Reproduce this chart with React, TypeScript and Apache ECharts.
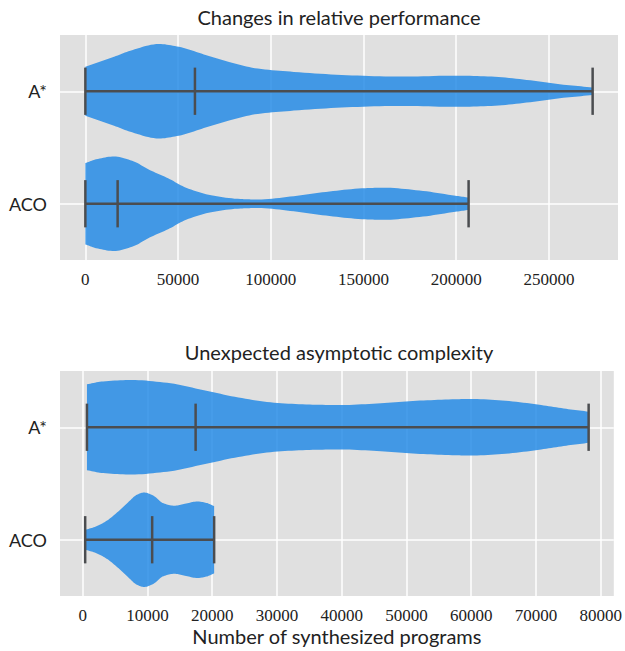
import React, { useEffect, useRef } from 'react';
import * as echarts from 'echarts';

const categories = ['A*', 'ACO'];

// Changes in relative performance
const perfTicks = [0, 50000, 100000, 150000, 200000, 250000];
const perfMin = [0, 0];
const perfMedian = [59100, 17400];
const perfMax = [273600, 206700];
const perfAstarX = [0, 15500, 25200, 39700, 50400, 63900, 77500, 93000, 112400, 141000, 170500, 199600, 219000, 238000, 257800, 273600];
const perfAstarW = [0.52, 0.73, 0.87, 1.0, 0.94, 0.78, 0.62, 0.48, 0.41, 0.34, 0.31, 0.33, 0.31, 0.24, 0.14, 0.08];
const perfAcoX = [0, 5800, 15500, 25200, 34900, 44600, 54300, 67800, 83700, 93000, 112400, 131700, 151100, 160800, 180200, 199600, 206700];
const perfAcoW = [0.86, 0.94, 1.0, 0.91, 0.71, 0.54, 0.34, 0.18, 0.1, 0.09, 0.16, 0.26, 0.33, 0.34, 0.28, 0.17, 0.13];

// Unexpected asymptotic complexity
const complTicks = [0, 10000, 20000, 30000, 40000, 50000, 60000, 70000, 80000];
const complMin = [660, 385];
const complMedian = [17440, 10730];
const complMax = [78130, 20300];
const complAstarX = [660, 3140, 7540, 13040, 18540, 24040, 29550, 35050, 40000, 46050, 51550, 57060, 59800, 65300, 70800, 74660, 78130];
const complAstarW = [0.91, 0.97, 1.0, 0.94, 0.79, 0.63, 0.52, 0.48, 0.47, 0.51, 0.56, 0.59, 0.6, 0.56, 0.47, 0.39, 0.33];
const complAcoX = [385, 2040, 3690, 5340, 6990, 8360, 9460, 10840, 12490, 14140, 15790, 17720, 19090, 20300];
const complAcoW = [0.21, 0.28, 0.4, 0.58, 0.79, 0.95, 1.0, 0.94, 0.77, 0.72, 0.76, 0.81, 0.78, 0.71];

const FILL = 'rgba(30,136,229,0.82)';
const LINE = '#4b4d50';
const TEXT = '#222222';
const HALF = 0.42;
const CAP = 0.21;
const SANS = 'Lato';
const SERIF = 'Liberation Serif';

// smooth drawing of an outline through given pixel points (monotone cubic, draws only)
function smoothOutline(px: number[], py: number[], steps: number): number[][] {
  const n = px.length;
  if (n < 3) return px.map((x, i) => [x, py[i]]);
  const d: number[] = [];
  for (let k = 0; k < n - 1; k++) d.push((py[k + 1] - py[k]) / (px[k + 1] - px[k] || 1e-9));
  const m: number[] = new Array(n);
  m[0] = d[0];
  m[n - 1] = d[n - 2];
  for (let k = 1; k < n - 1; k++) {
    if (d[k - 1] * d[k] <= 0) m[k] = 0;
    else {
      const h0 = px[k] - px[k - 1];
      const h1 = px[k + 1] - px[k];
      const w1 = 2 * h1 + h0;
      const w2 = h1 + 2 * h0;
      m[k] = (w1 + w2) / (w1 / d[k - 1] + w2 / d[k]);
    }
  }
  const out: number[][] = [];
  for (let k = 0; k < n - 1; k++) {
    const h = px[k + 1] - px[k];
    for (let s = 0; s < steps; s++) {
      const t = s / steps;
      const t2 = t * t, t3 = t2 * t;
      const h00 = 2 * t3 - 3 * t2 + 1;
      const h10 = t3 - 2 * t2 + t;
      const h01 = -2 * t3 + 3 * t2;
      const h11 = t3 - t2;
      out.push([px[k] + t * h, h00 * py[k] + h10 * h * m[k] + h01 * py[k + 1] + h11 * h * m[k + 1]]);
    }
  }
  out.push([px[n - 1], py[n - 1]]);
  return out;
}

function violinRenderer(xs: number[][], ws: number[][], mins: number[], medians: number[], maxs: number[]) {
  return (params: any, api: any) => {
    const i = params.dataIndex;
    const pos = i + 1;
    const unit = Math.abs(api.size([0, 1])[1]);
    const center = api.coord([mins[i], pos])[1];
    const pxs: number[] = [];
    const hws: number[] = [];
    xs[i].forEach((v, k) => {
      pxs.push(api.coord([v, pos])[0]);
      hws.push(ws[i][k] * HALF * unit);
    });
    const curve = smoothOutline(pxs, hws, 10);
    const upper = curve.map((p) => [p[0], center - p[1]]);
    const lower = curve.map((p) => [p[0], center + p[1]]).reverse();
    const pts = upper.concat(lower);
    const pMin = api.coord([mins[i], pos]);
    const pMed = api.coord([medians[i], pos]);
    const pMax = api.coord([maxs[i], pos]);
    const cap = (p: number[]) => ({
      type: 'line',
      shape: { x1: p[0], y1: p[1] - CAP * unit, x2: p[0], y2: p[1] + CAP * unit },
      style: { stroke: LINE, lineWidth: 2.5 },
    });
    return {
      type: 'group',
      children: [
        { type: 'polygon', shape: { points: pts }, style: { fill: FILL } },
        {
          type: 'line',
          shape: { x1: pMin[0], y1: pMin[1], x2: pMax[0], y2: pMax[1] },
          style: { stroke: LINE, lineWidth: 2.5 },
        },
        cap(pMin),
        cap(pMed),
        cap(pMax),
      ],
    };
  };
}

function xAxisFor(gridIndex: number, min: number, max: number, splitNumber: number, ticks: number[], extra: any = {}) {
  return {
    type: 'value',
    gridIndex,
    min,
    max,
    splitNumber,
    axisLine: { show: false },
    axisTick: { show: false },
    axisLabel: {
      margin: 11,
      color: TEXT,
      fontFamily: SERIF,
      fontSize: 17,
      showMinLabel: false,
      showMaxLabel: false,
      formatter: (v: number) => (ticks.includes(v) ? String(v) : ''),
    },
    splitLine: { show: true, showMinLine: false, showMaxLine: false, lineStyle: { color: '#ffffff', width: 1.5 } },
    ...extra,
  };
}

function yAxisFor(gridIndex: number) {
  return {
    type: 'value',
    gridIndex,
    min: 0.5,
    max: 2.5,
    splitNumber: 2,
    inverse: true,
    axisLine: { show: false },
    axisTick: { show: false },
    axisLabel: {
      margin: 13,
      color: TEXT,
      fontFamily: SANS,
      fontSize: 18,
      showMinLabel: false,
      showMaxLabel: false,
      formatter: (v: number) => (Number.isInteger(v) && categories[v - 1] ? categories[v - 1] : ''),
    },
    splitLine: { show: true, showMinLine: false, showMaxLine: false, lineStyle: { color: '#ffffff', width: 1.5 } },
  };
}

export default function App() {
  const ref = useRef<HTMLDivElement>(null);
  useEffect(() => {
    document.body.style.margin = '0';
    if (!ref.current) return;
    const chart = echarts.init(ref.current, undefined, { renderer: 'svg' });
    chart.setOption({
      animation: false,
      backgroundColor: '#ffffff',
      grid: [
        { left: 60, top: 35, width: 558, height: 225, show: true, backgroundColor: '#e0e0e0', borderWidth: 0 },
        { left: 60, top: 371, width: 558, height: 225, show: true, backgroundColor: '#e0e0e0', borderWidth: 0 },
      ],
      graphic: [
        {
          type: 'text', x: 339, y: 17, silent: true,
          style: { text: 'Changes in relative performance', fill: TEXT, fontFamily: SANS, fontSize: 20, align: 'center', verticalAlign: 'middle', textAlign: 'center', textVerticalAlign: 'middle' },
        },
        {
          type: 'text', x: 339, y: 352, silent: true,
          style: { text: 'Unexpected asymptotic complexity', fill: TEXT, fontFamily: SANS, fontSize: 20, align: 'center', verticalAlign: 'middle', textAlign: 'center', textVerticalAlign: 'middle' },
        },
      ],
      xAxis: [
        xAxisFor(0, -13680, 287280, 6, perfTicks),
        xAxisFor(1, -3502, 82017, 8, complTicks, {
          name: 'Number of synthesized programs',
          nameLocation: 'middle',
          nameGap: 30,
          nameTextStyle: { color: TEXT, fontFamily: SANS, fontSize: 20 },
        }),
      ],
      yAxis: [yAxisFor(0), yAxisFor(1)],
      series: [
        {
          type: 'custom',
          xAxisIndex: 0,
          yAxisIndex: 0,
          silent: true,
          data: [[perfMedian[0], 1], [perfMedian[1], 2]],
          renderItem: violinRenderer([perfAstarX, perfAcoX], [perfAstarW, perfAcoW], perfMin, perfMedian, perfMax),
        },
        {
          type: 'custom',
          xAxisIndex: 1,
          yAxisIndex: 1,
          silent: true,
          data: [[complMedian[0], 1], [complMedian[1], 2]],
          renderItem: violinRenderer([complAstarX, complAcoX], [complAstarW, complAcoW], complMin, complMedian, complMax),
        },
      ],
    });
    return () => chart.dispose();
  }, []);
  return <div ref={ref} style={{ width: 625, height: 651 }} />;
}
